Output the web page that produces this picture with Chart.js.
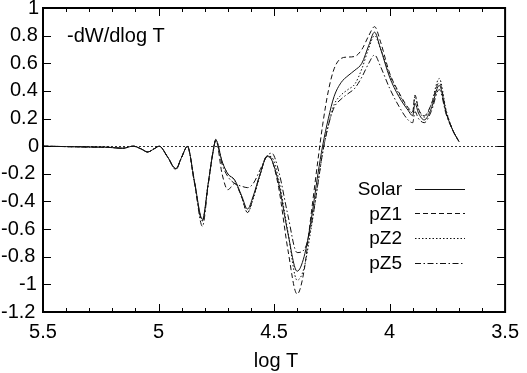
<!DOCTYPE html>
<html>
<head>
<meta charset="utf-8">
<script src="https://cdn.jsdelivr.net/npm/chart.js@4.4.0/dist/chart.umd.min.js"></script>
<style>
	body { margin: 0; background: #fff; }
</style>
</head>
<body>
<canvas id="mycanvas" width="527" height="373"></canvas>
<script>
// log T grid shared by all four curves
var logT = [5.50, 5.40, 5.30, 5.22, 5.155, 5.11, 5.075, 5.047, 5.02, 4.997,
	4.96, 4.925, 4.90, 4.875, 4.845, 4.81, 4.785, 4.765, 4.752, 4.725,
	4.70, 4.67, 4.64, 4.615, 4.59, 4.56, 4.53, 4.51, 4.48, 4.44,
	4.40, 4.37, 4.34, 4.31, 4.29, 4.265, 4.24, 4.21, 4.18, 4.15,
	4.12, 4.09, 4.065, 4.04, 4.00, 3.96, 3.92, 3.90, 3.89, 3.875,
	3.85, 3.82, 3.785, 3.755, 3.725, 3.70];

var solar = [0, -0.003, -0.006, -0.008, -0.015, 0, -0.02, -0.042, -0.02, 0,
	-0.08, -0.162, -0.08, -0.002, -0.25, -0.53, -0.27, -0.05, 0.045, -0.11,
	-0.2, -0.245, -0.36, -0.455, -0.36, -0.2, -0.075, -0.1, -0.27, -0.63,
	-0.905, -0.8, -0.54, -0.2, 0, 0.2, 0.36, 0.46, 0.51, 0.55,
	0.6, 0.73, 0.825, 0.71, 0.5, 0.36, 0.26, 0.22, 0.31, 0.24,
	0.19, 0.27, 0.44, 0.24, 0.11, 0.035];

var pZ1 = [0, -0.003, -0.006, -0.008, -0.015, 0, -0.02, -0.042, -0.02, 0,
	-0.08, -0.162, -0.08, -0.002, -0.26, -0.54, -0.27, -0.05, 0.05, -0.2,
	-0.315, -0.27, -0.37, -0.48, -0.37, -0.2, -0.07, -0.1, -0.3, -0.75,
	-1.07, -0.9, -0.5, -0.1, 0.15, 0.4, 0.56, 0.635, 0.645, 0.65,
	0.7, 0.8, 0.865, 0.76, 0.53, 0.39, 0.28, 0.25, 0.37, 0.27,
	0.22, 0.3, 0.46, 0.25, 0.11, 0.035];

var pZ2 = [0, -0.003, -0.006, -0.008, -0.015, 0, -0.02, -0.042, -0.02, 0,
	-0.08, -0.165, -0.08, -0.002, -0.26, -0.54, -0.27, -0.05, 0.045, -0.11,
	-0.2, -0.25, -0.37, -0.48, -0.38, -0.21, -0.07, -0.08, -0.24, -0.62,
	-0.97, -0.88, -0.6, -0.27, -0.05, 0.15, 0.3, 0.37, 0.41, 0.45,
	0.56, 0.71, 0.8, 0.71, 0.52, 0.38, 0.27, 0.24, 0.36, 0.27,
	0.21, 0.3, 0.49, 0.26, 0.11, 0.035];

var pZ5 = [0, -0.003, -0.006, -0.008, -0.015, 0, -0.02, -0.042, -0.02, 0,
	-0.08, -0.17, -0.08, -0.002, -0.25, -0.58, -0.28, -0.05, 0.04, -0.13,
	-0.22, -0.27, -0.29, -0.3, -0.27, -0.17, -0.07, -0.05, -0.18, -0.5,
	-0.77, -0.75, -0.58, -0.27, -0.05, 0.15, 0.28, 0.34, 0.38, 0.42,
	0.5, 0.6, 0.66, 0.58, 0.42, 0.29, 0.19, 0.17, 0.25, 0.2,
	0.17, 0.25, 0.41, 0.23, 0.11, 0.035];

var labels = ["Solar", "pZ1", "pZ2", "pZ5"];
var dashes = [[], [5, 3], [1.5, 2], [6, 2.5, 1.5, 2.5]];

function pts(ys) {
	var out = [];
	for (var i in logT) out.push({x: logT[i], y: ys[i]});
	return out;
}

function fmt(v) {
	return String(Math.round(v * 10) / 10);
}

var FONT = '"Liberation Sans", Arial, sans-serif';
Chart.defaults.font.family = FONT;
Chart.defaults.font.size = 20;
Chart.defaults.color = "#000";

// gnuplot style frame: box, inward ticks, zero line, y labels, key, labels
var frame = {
	id: "frame",
	beforeDatasetsDraw: function(chart) {
		var ctx = chart.ctx, a = chart.chartArea, y = chart.scales.y;
		var y0 = Math.round(y.getPixelForValue(0)) + 0.5;
		ctx.save();
		ctx.strokeStyle = "#333";
		ctx.lineWidth = 1;
		ctx.setLineDash([2, 2]);
		ctx.beginPath();
		ctx.moveTo(a.left, y0);
		ctx.lineTo(a.right, y0);
		ctx.stroke();
		ctx.restore();
	},
	afterDraw: function(chart) {
		var ctx = chart.ctx, a = chart.chartArea, xs = chart.scales.x, ys = chart.scales.y;
		ctx.save();
		ctx.strokeStyle = "#000";
		ctx.lineWidth = 2;
		ctx.setLineDash([]);
		ctx.strokeRect(a.left, a.top, a.right - a.left, a.bottom - a.top);

		ctx.lineWidth = 1;
		ctx.beginPath();
		for (var i = 35; i <= 55; i++) {
			var px = Math.round(xs.getPixelForValue(i / 10)) + 0.5;
			var len = (i % 5 == 0) ? 8 : 4;
			ctx.moveTo(px, a.bottom); ctx.lineTo(px, a.bottom - len);
			ctx.moveTo(px, a.top); ctx.lineTo(px, a.top + len);
		}
		ys.ticks.forEach(function(t) {
			var py = Math.round(ys.getPixelForValue(t.value)) + 0.5;
			ctx.moveTo(a.left, py); ctx.lineTo(a.left + 8, py);
			ctx.moveTo(a.right, py); ctx.lineTo(a.right - 8, py);
		});
		ctx.stroke();

		ctx.fillStyle = "#000";
		ctx.font = "20px " + FONT;
		ctx.textAlign = "left";
		ctx.textBaseline = "middle";
		ys.ticks.forEach(function(t) {
			var s = fmt(t.value);
			ctx.fillText(s, 37 - 9 * s.length, ys.getPixelForValue(t.value));
		});

		ctx.textBaseline = "alphabetic";
		ctx.fillText("-dW/dlog T", 67, 42);

		ctx.textAlign = "center";
		ctx.fillText("log T", (a.left + a.right) / 2 + 2, 367);

		ctx.font = "19px " + FONT;
		ctx.textAlign = "right";
		chart.data.datasets.forEach(function(ds, k) {
			var base = 195 + k * 24.7;
			ctx.fillText(ds.label, 402, base);
			var ly = Math.round(base - 6.5) + 0.5;
			ctx.strokeStyle = ds.borderColor;
			ctx.lineWidth = 1;
			ctx.setLineDash(ds.borderDash);
			ctx.beginPath();
			ctx.moveTo(415, ly);
			ctx.lineTo(465, ly);
			ctx.stroke();
		});
		ctx.restore();
	}
};

var series = [solar, pZ1, pZ2, pZ5];
var datasets = [];
for (var k = 0; k < series.length; k++) {
	datasets.push({
		label: labels[k],
		data: pts(series[k]),
		borderColor: "#111",
		borderWidth: 1,
		borderDash: dashes[k],
		pointRadius: 0,
		fill: false,
		cubicInterpolationMode: "monotone"
	});
}

var ctx = document.getElementById("mycanvas");
var LineGraph = new Chart(ctx, {
	type: "line",
	data: { datasets: datasets },
	options: {
		responsive: false,
		animation: false,
		devicePixelRatio: 1,
		layout: { padding: { left: 0, right: 20, top: 8, bottom: 0 } },
		plugins: { legend: { display: false }, tooltip: { enabled: false } },
		scales: {
			x: {
				type: "linear",
				reverse: true,
				min: 3.5,
				max: 5.5,
				grid: { display: false, drawTicks: false },
				border: { display: false },
				ticks: { stepSize: 0.5, padding: 8, callback: function(v) { return fmt(v); } },
				afterFit: function(s) { s.height = 61; }
			},
			y: {
				min: -1.2,
				max: 1,
				grid: { display: false, drawTicks: false },
				border: { display: false },
				ticks: { stepSize: 0.2, display: false },
				afterFit: function(s) { s.width = 43; }
			}
		}
	},
	plugins: [frame]
});
</script>
</body>
</html>
